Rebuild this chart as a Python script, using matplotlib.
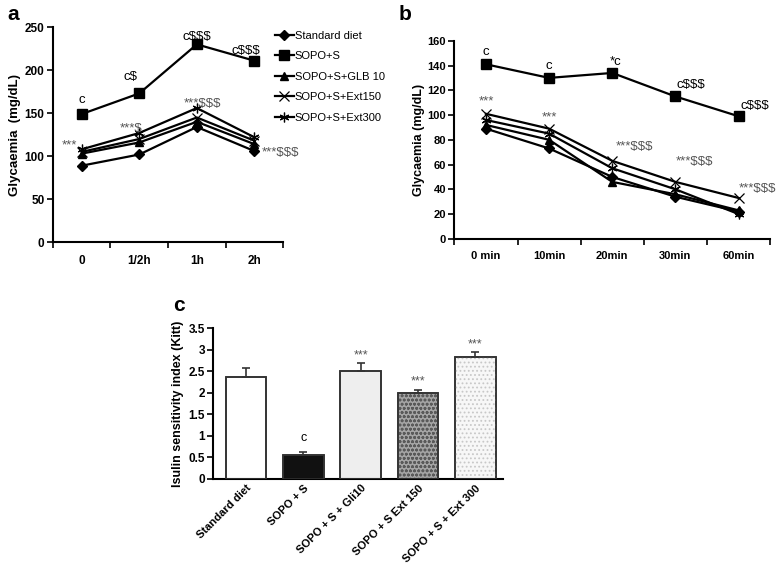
import matplotlib.pyplot as plt
import numpy as np

plt.rcParams['font.family'] = ['Liberation Sans Narrow', 'Liberation Sans', 'DejaVu Sans']
plt.rcParams['hatch.linewidth'] = 0.8

# Panel a: oral glucose tolerance
times_a = ["0", "1/2h", "1h", "2h"]
std_a = [89, 102, 134, 106]
sopo_a = [149, 173, 230, 211]
glb_a = [103, 116, 140, 114]
ext150_a = [105, 120, 145, 118]
ext300_a = [108, 127, 156, 122]

# Panel b: insulin tolerance
times_b = ["0 min", "10min", "20min", "30min", "60min"]
std_b = [89, 73, 50, 34, 22]
sopo_b = [141, 130, 134, 115, 99]
glb_b = [92, 80, 46, 36, 23]
ext150_b = [101, 89, 63, 46, 33]
ext300_b = [96, 85, 57, 40, 20]

# Panel c: Kitt index
groups_c = ["Standard diet", "SOPO + S", "SOPO + S + Gli10", "SOPO + S Ext 150", "SOPO + S + Ext 300"]
kitt = [2.37, 0.56, 2.50, 1.99, 2.83]
kitt_err = [0.20, 0.07, 0.20, 0.08, 0.12]

series_names = ["Standard diet", "SOPO+S", "SOPO+S+GLB 10", "SOPO+S+Ext150", "SOPO+S+Ext300"]
styles = [
    dict(marker="D", markersize=5, color="black"),
    dict(marker="s", markersize=7, color="black"),
    dict(marker="^", markersize=6, color="black"),
    dict(marker="x", markersize=7, color="black", markeredgewidth=0.9),
    dict(marker=(6, 2, 0), markersize=7, color="black", markeredgewidth=0.9),
]

fig = plt.figure(figsize=(7.78, 5.66), dpi=100)
grey = "#555555"


def style_axes(ax, size=8.5):
    for s in ["top", "right"]:
        ax.spines[s].set_visible(False)
    for s in ["left", "bottom"]:
        ax.spines[s].set_linewidth(1.5)
    ax.tick_params(axis="both", width=1.2, length=4, labelsize=size, pad=2)
    for lab in ax.get_xticklabels() + ax.get_yticklabels():
        lab.set_fontweight("bold")


# ---- panel a
axa = fig.add_axes([0.068, 0.572, 0.296, 0.380])
xa = np.arange(len(times_a))
for name, ys, st in zip(series_names, [std_a, sopo_a, glb_a, ext150_a, ext300_a], styles):
    axa.plot(xa, ys, label=name, linewidth=1.6, **st)
axa.set_xlim(-0.5, 3.5)
axa.set_ylim(0, 250)
axa.set_yticks(np.arange(0, 251, 50))
axa.set_xticks(xa)
axa.set_xticklabels(times_a)
axa.set_xticks(np.arange(-0.5, 3.6, 1), minor=True)
style_axes(axa)
axa.tick_params(axis="x", which="major", length=0, pad=9)
axa.tick_params(axis="x", which="minor", length=4, width=1.2)
axa.set_ylabel("Glycaemia  (mg/dL)", fontsize=9.5, fontweight="bold", labelpad=3)
axa.legend(loc="upper left", bbox_to_anchor=(0.92, 1.03), frameon=False,
           handlelength=1.7, labelspacing=0.95, handletextpad=0.1,
           prop={"family": ["Liberation Sans", "DejaVu Sans"], "size": 8})

ann_a = [
    (0, 165, "c", "black"), (0.85, 192, "c$", "black"), (2, 238, "c$$$", "black"), (2.85, 222, "c$$$", "black"),
    (-0.22, 113, "***", grey), (0.85, 132, "***$", grey), (2.1, 161, "***$$$", grey), (3.45, 104, "***$$$", grey),
]
for x, y, t, c in ann_a:
    axa.text(x, y, t, ha="center", va="center", fontsize=9.5, color=c, clip_on=False)

fig.text(0.01, 0.975, "a", fontsize=15, fontweight="bold", va="center",
         family=["Liberation Sans", "DejaVu Sans"])

# ---- panel b
axb = fig.add_axes([0.584, 0.578, 0.406, 0.350])
xb = np.arange(len(times_b))
for name, ys, st in zip(series_names, [std_b, sopo_b, glb_b, ext150_b, ext300_b], styles):
    axb.plot(xb, ys, label=name, linewidth=1.6, **st)
axb.set_xlim(-0.5, 4.4)
axb.set_ylim(0, 160)
axb.set_yticks(np.arange(0, 161, 20))
axb.set_xticks(xb)
axb.set_xticklabels(times_b)
axb.set_xticks(np.arange(-0.5, 4.6, 1), minor=True)
style_axes(axb, size=8)
axb.tick_params(axis="x", which="major", length=0, pad=9)
axb.tick_params(axis="x", which="minor", length=4, width=1.2)
axb.set_ylabel("Glycaemia (mg/dL)", fontsize=9, fontweight="bold", labelpad=2)

ann_b = [
    (0, 151, "c", "black"), (1, 140, "c", "black"), (2.05, 143, "*c", "black"),
    (3.25, 124, "c$$$", "black"), (4.25, 107, "c$$$", "black"),
    (0, 111, "***", grey), (1, 98, "***", grey), (2.35, 74, "***$$$", grey),
    (3.3, 62, "***$$$", grey), (4.3, 40, "***$$$", grey),
]
for x, y, t, c in ann_b:
    axb.text(x, y, t, ha="center", va="center", fontsize=9.5, color=c, clip_on=False)

fig.text(0.512, 0.975, "b", fontsize=15, fontweight="bold", va="center",
         family=["Liberation Sans", "DejaVu Sans"])

# ---- panel c
axc = fig.add_axes([0.274, 0.154, 0.373, 0.266])
xc = np.arange(len(groups_c))
faces = ["white", "#111111", "#eeeeee", "#a5a5a5", "#f7f7f7"]
hatches = [None, None, None, "oooo", "...."]
hatch_cols = [None, None, None, "#5a5a5a", "#c8c8c8"]
# textured fills underneath the outlined bars
for xi, val, h, hc in zip(xc, kitt, hatches, hatch_cols):
    if h:
        axc.bar(xi, val, width=0.71, color="none", hatch=h, edgecolor=hc, linewidth=0, zorder=2)
axc.bar(xc, kitt, width=0.71, color=faces, edgecolor="#333333", linewidth=1.2, zorder=1)
axc.bar(xc, kitt, width=0.71, color="none", edgecolor="#333333", linewidth=1.2, zorder=3)
axc.errorbar(xc, kitt, yerr=[np.zeros(len(kitt)), kitt_err], fmt="none", ecolor="#333333",
             elinewidth=1.2, capsize=3, capthick=1.2, zorder=4)
axc.set_xlim(-0.57, 4.49)
axc.set_ylim(0, 3.5)
axc.set_yticks(np.arange(0, 3.6, 0.5))
axc.set_yticklabels(["0", "0.5", "1", "1.5", "2", "2.5", "3", "3.5"])
axc.set_xticks(xc)
axc.set_xticklabels(groups_c, rotation=45, ha="right", rotation_mode="anchor")
style_axes(axc, size=8.5)
axc.tick_params(axis="x", length=0, labelsize=8, pad=3)
axc.set_ylabel("Isulin sensitivity index (Kitt)", fontsize=9, fontweight="bold", labelpad=3)

ann_c = [(1, 0.95, "c", "black"), (2, 2.87, "***", grey), (3, 2.27, "***", grey), (4, 3.12, "***", grey)]
for x, y, t, c in ann_c:
    axc.text(x, y, t, ha="center", va="center", fontsize=9, color=c, zorder=5)

fig.text(0.222, 0.46, "c", fontsize=15, fontweight="bold", va="center",
         family=["Liberation Sans", "DejaVu Sans"])

fig.savefig("out.png", dpi=100)
